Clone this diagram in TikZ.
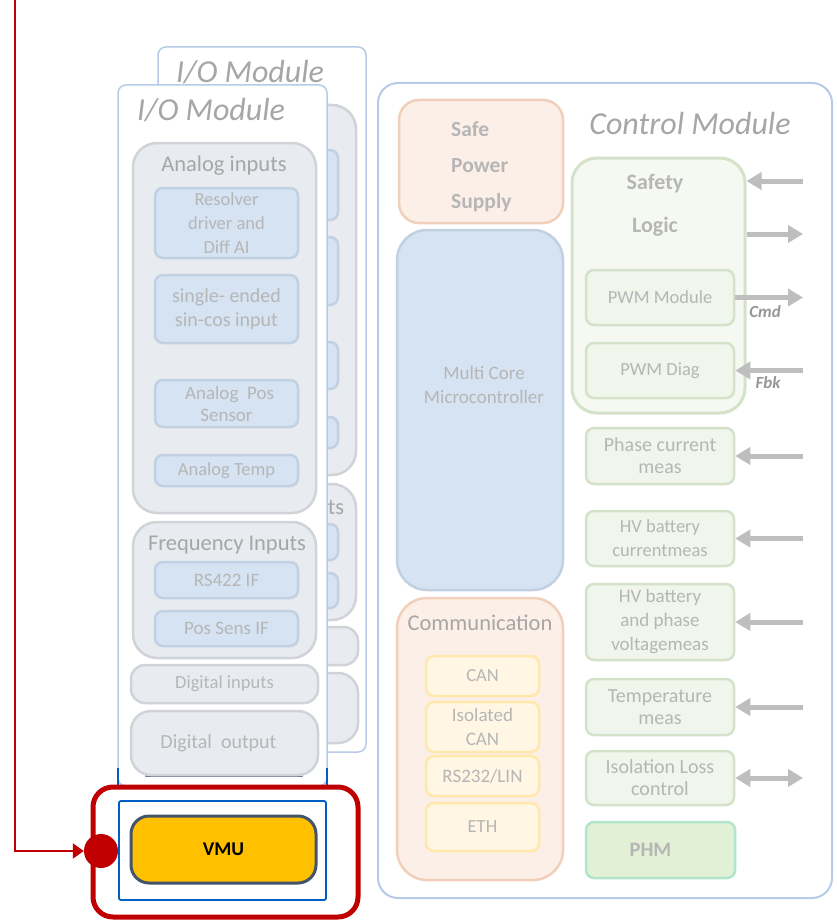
\documentclass[tikz,border=0pt]{standalone}
\usepackage{fontspec}
\setmainfont{Carlito}
\usetikzlibrary{arrows.meta}

\definecolor{modline}{RGB}{183,203,232}
\definecolor{grpline}{RGB}{208,211,216}
\definecolor{grpfill}{RGB}{232,235,240}
\definecolor{blueline}{RGB}{193,209,226}
\definecolor{bluefill}{RGB}{213,227,242}
\definecolor{peachline}{RGB}{242,207,186}
\definecolor{peachfill}{RGB}{252,239,231}
\definecolor{creamline}{RGB}{255,232,170}
\definecolor{creamfill}{RGB}{255,246,228}
\definecolor{greenline}{RGB}{212,226,202}
\definecolor{greenfill}{RGB}{240,246,235}
\definecolor{safefill}{RGB}{245,249,242}
\definecolor{phmline}{RGB}{178,230,204}
\definecolor{phmfill}{RGB}{226,240,213}
\definecolor{txtgrey}{RGB}{182,182,182}
\definecolor{ttlgrey}{RGB}{166,166,166}
\definecolor{lblgrey}{RGB}{150,150,150}
\definecolor{arrgrey}{RGB}{190,190,190}
\definecolor{vmured}{RGB}{192,0,0}
\definecolor{vmublue}{RGB}{0,94,196}
\definecolor{vmufill}{RGB}{255,192,0}
\definecolor{vmuline}{RGB}{68,84,106}

\newcommand{\txtsize}[2]{\fontsize{#1}{#2}\selectfont}

\tikzset{
  box/.style={inner sep=0pt, line width=2.5pt, rounded corners=8pt, text=txtgrey, align=center},
  module/.style={box, draw=modline, line width=1.5pt, fill=white},
  grpbox/.style={box, draw=grpline, fill=grpfill, rounded corners=24pt},
  inbox/.style={box, draw=blueline, fill=bluefill},
  pwrbox/.style={box, draw=peachline, fill=peachfill},
  combox/.style={box, draw=creamline, fill=creamfill},
  measbox/.style={box, draw=greenline, fill=greenfill, minimum width=148pt},
  modttl/.style={inner sep=0pt, text=ttlgrey, font=\itshape\txtsize{32}{36}},
  grpttl/.style={inner sep=0pt, text=ttlgrey, font=\txtsize{22.5}{26}},
  txt/.style={inner sep=0pt, text=txtgrey, align=center},
  bigarrow/.style={draw=arrgrey, line width=5pt, -{Triangle[length=15pt,width=17pt]}},
  sigttl/.style={inner sep=0pt, text=lblgrey, font=\bfseries\itshape\txtsize{17}{20}}
}

\begin{document}
\begin{tikzpicture}[x=1pt,y=-1pt]
\useasboundingbox (0,0) rectangle (836,923);

% I/O module behind
\node[module, minimum width=208pt, minimum height=705pt] (ioB) at (262,399.5) {};
\node[modttl] (ioBttl) at (250,72) {I/O Module};
\begin{scope}[shift={(40,-38)}]
\node[grpbox, minimum width=183pt, minimum height=370pt] (anaB) at (224.5,328) {};
\node[grpbox, minimum width=183pt, minimum height=136pt] (frqB) at (224.5,590) {};
\foreach \cy/\h [count=\i] in {223/70,309/68,403.5/47,470.5/31,580/36,628.5/35}
  \node[inbox, minimum width=143pt, minimum height=\h pt] (inB\i) at (226.5,\cy) {};
\node[grpbox, rounded corners=14pt, minimum width=187pt, minimum height=38pt] (dinB) at (224.5,684) {};
\node[grpbox, rounded corners=20pt, minimum width=187pt, minimum height=70pt] (doutB) at (224.5,746) {};
\end{scope}
\node[grpttl] (frqBttl) at (336,507) {ts};

% I/O module in front
\node[module, minimum width=209pt, minimum height=701pt] (ioF) at (222.5,435.5) {};
\draw[vmublue, line width=1.5pt] (118,768) -- (118,786) (327,768) -- (327,786);
\node[modttl] (ioFttl) at (211,110) {I/O Module};

\node[grpbox, minimum width=183pt, minimum height=370pt] (ana) at (224.5,328) {};
\node[grpttl] (anattl) at (224,166) {Analog inputs};
\node[inbox, minimum width=143pt, minimum height=70pt, font=\txtsize{18.5}{24}] (resolver) at (226.5,223) {Resolver\\driver and\\Diff AI};
\node[inbox, minimum width=143pt, minimum height=68pt, font=\txtsize{20}{24}] (sincos) at (226.5,309) {single- ended\\sin-cos input};
\node[inbox, minimum width=143pt, minimum height=47pt, font=\txtsize{19}{22}] (anapos) at (226.5,403.5) {\hspace*{6pt}Analog\ \ Pos\\Sensor};
\node[inbox, minimum width=143pt, minimum height=31pt, font=\txtsize{18.5}{22}] (anatemp) at (226.5,470.5) {Analog Temp};

\node[grpbox, minimum width=183pt, minimum height=136pt] (frq) at (224.5,590) {};
\node[grpttl] (frqttl) at (227,545) {Frequency Inputs};
\node[inbox, minimum width=143pt, minimum height=36pt, font=\txtsize{19}{22}] (rs422) at (226.5,580) {RS422 IF};
\node[inbox, minimum width=143pt, minimum height=35pt, font=\txtsize{19}{22}] (possens) at (226.5,628.5) {Pos Sens IF};

\node[grpbox, rounded corners=14pt, minimum width=187pt, minimum height=38pt, font=\txtsize{18.5}{22}] (din) at (224.5,684) {Digital inputs};
\draw[vmuline!80, line width=2.5pt, line cap=round] (146,776) -- (302,776);
\node[grpbox, rounded corners=20pt, minimum width=187pt, minimum height=64pt, font=\txtsize{20}{24}] (dout) at (224.5,743) {Digital\ \ output\hspace*{12pt}};

% VMU
\node[draw=vmured, line width=5pt, rounded corners=20pt, minimum width=265pt, minimum height=130pt] (vmuframe) at (225.5,852) {};
\node[draw=vmublue, line width=1.8pt, rounded corners=2pt, minimum width=207pt, minimum height=99pt] (vmuarea) at (222.5,850.5) {};
\node[draw=vmuline, fill=vmufill, line width=3pt, rounded corners=18pt, minimum width=185pt, minimum height=67pt, font=\bfseries\txtsize{19.5}{23}] (vmu) at (223.5,849.5) {VMU};
\node[circle, fill=vmured, minimum size=34pt, inner sep=0pt] (dot) at (101,851) {};
\coordinate (feed) at (15,0);
\draw[vmured, line width=2pt, -{Triangle[length=11pt,width=15pt]}] (feed) |- (dot.west);

% control module
\node[module, line width=2pt, rounded corners=20pt, minimum width=454pt, minimum height=815pt] (ctrl) at (605,490.5) {};
\node[modttl] (ctrlttl) at (690,124) {Control Module};

\node[pwrbox, rounded corners=20pt, minimum width=164pt, minimum height=123pt] (sps) at (481,161.5) {};
\node[txt, align=left, anchor=west, font=\bfseries\txtsize{21.5}{36}] (spsttl) at (451,167) {Safe\\Power\\Supply};

\node[inbox, rounded corners=30pt, minimum width=166pt, minimum height=360pt] (mcu) at (480,410) {};
\node[txt, font=\txtsize{19}{24}] (mcuttl) at (484,385) {Multi Core\\Microcontroller};

\node[pwrbox, rounded corners=30pt, minimum width=166pt, minimum height=282pt] (com) at (480,739) {};
\node[grpttl] (comttl) at (480,623) {Communication};
\node[combox, minimum width=113pt, minimum height=40pt, font=\txtsize{18.5}{22}] (can) at (482.5,676) {CAN};
\node[combox, minimum width=113pt, minimum height=50pt, font=\txtsize{19}{24}] (isocan) at (482.5,727) {Isolated\\CAN};
\node[combox, minimum width=113pt, minimum height=40pt, font=\txtsize{19}{22}] (rs232) at (482.5,776) {RS232/LIN};
\node[combox, minimum width=113pt, minimum height=48pt, font=\txtsize{18.5}{22}] (eth) at (482.5,827) {ETH};

\node[measbox, fill=safefill, line width=3pt, rounded corners=25pt, minimum width=173pt, minimum height=255pt] (safety) at (658.5,285.5) {};
\node[txt, font=\bfseries\txtsize{22}{43}] (safettl) at (655,205) {Safety\\Logic};
\node[measbox, minimum height=55pt, font=\txtsize{18.5}{22}] (pwmmod) at (660,297.5) {PWM Module};
\node[measbox, minimum height=55pt, font=\txtsize{18.5}{22}] (pwmdiag) at (660,370.5) {PWM\ Diag};

\node[measbox, minimum height=56pt, font=\txtsize{20}{22}] (phase) at (660,456) {Phase current\\meas};
\node[measbox, minimum height=55pt, font=\txtsize{18.5}{24}] (hvcur) at (660,538.5) {HV battery\\currentmeas};
\node[measbox, minimum height=76pt, font=\txtsize{19}{24}] (hvvolt) at (660,622) {HV battery\\and phase\\voltagemeas};
\node[measbox, minimum height=56pt, font=\txtsize{20}{22}] (temp) at (660,707) {Temperature\\meas};
\node[measbox, minimum height=54pt, font=\txtsize{20}{22}] (iso) at (660,778) {Isolation Loss\\control};
\node[measbox, draw=phmline, fill=phmfill, minimum height=56pt, minimum width=149pt, font=\bfseries\txtsize{20.5}{24}] (phm) at (660.5,850) {PHM\hspace*{20pt}};

% signals
\coordinate (rim) at (803,0);
\coordinate (sin) at (803,181);
\coordinate (sout) at (803,234);
\draw[bigarrow] (sin) -- (sin -| safety.east);
\draw[bigarrow] (sout -| safety.east) -- (sout);
\draw[bigarrow] (pwmmod.east) -- (pwmmod.east -| rim);
\node[sigttl] (cmd) at (765,312) {Cmd};
\draw[bigarrow] (pwmdiag.east -| rim) -- (pwmdiag.east);
\node[sigttl] (fbk) at (768,383) {Fbk};
\foreach \nm in {phase,hvcur,hvvolt,temp}
  \draw[bigarrow] (\nm.east -| rim) -- (\nm.east);
\draw[bigarrow, {Triangle[length=15pt,width=17pt]}-{Triangle[length=15pt,width=17pt]}] (iso.east) -- (iso.east -| rim);
\end{tikzpicture}
\end{document}
